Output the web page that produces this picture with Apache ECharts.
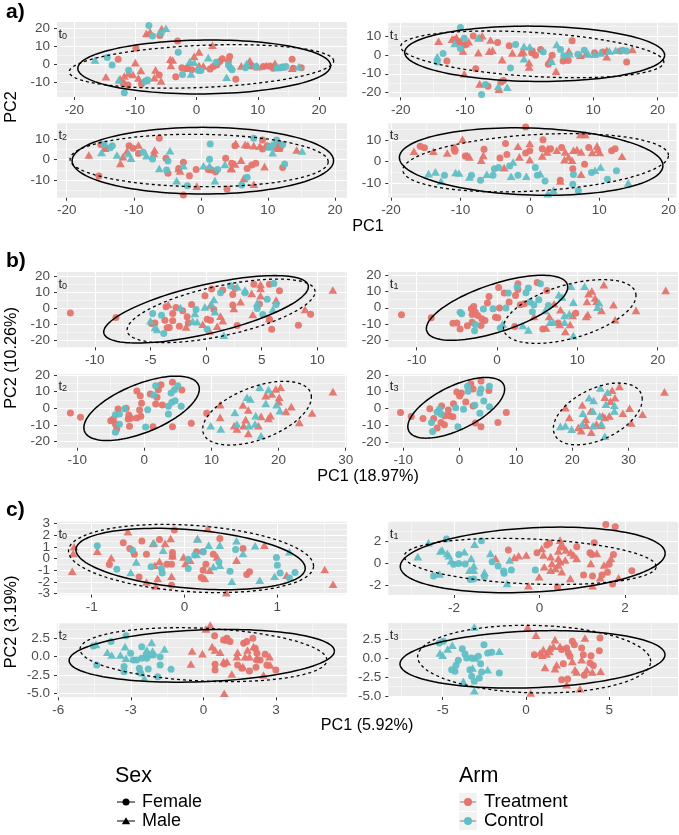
<!DOCTYPE html>
<html><head><meta charset="utf-8">
<style>html,body{margin:0;padding:0;background:#fff}#c{width:679px;height:835px}</style>
<script src="https://cdn.jsdelivr.net/npm/echarts@6/dist/echarts.min.js"></script></head>
<body><div id="c"></div>
<script>
// tf = Treatment/Female, tm = Treatment/Male, cf = Control/Female, cm = Control/Male
const a0_tf=[[-9.9,8.9],[-3.1,13],[-12.8,2.8],[-6,16],[-3.4,-7],[-6.1,-5.9],[-9,-11],[-12,-10.5],[-11.2,-11.5],[-2.4,-1.9],[-1.5,-1.9],[-0.8,-3.1],[2.7,-1.3],[3.3,-0.4],[4.2,3],[5.4,4.3],[5.2,1.9],[2.2,-2.6],[3.8,1.5],[6.4,-8.3],[9,-0.9],[10.9,-1.3],[12,-0.9],[12.5,-2.2],[14.1,-1.7],[15.6,2.8],[17.1,-1.9],[15.8,-2.2]];
const a0_tm=[[-8.2,17.2],[-7.6,18],[-5.7,19.8],[2.6,10.6],[0.4,6.9],[-0.4,4.4],[-4.3,2.8],[-3.9,2.4],[-4.2,-0.7],[-10,0.9],[-14.8,-6.9],[-12.5,-8.1],[-11.8,-6.5],[-11.1,-5],[-10.4,-5.7],[-9.1,-3.5],[-9.5,-7.6],[-6.7,-3.1],[-6.9,-7.4],[-5.8,-9.3],[-1.5,-2.2],[0.4,-0.7],[1.1,-0.9],[7.3,-0.9],[8.7,2],[8.4,-0.4],[10,-1.3],[11.4,-0.7],[12.8,0.6],[15.6,-2.2]];
const a0_cf=[[-7.8,21.5],[-7.2,15.7],[-5.8,17.2],[-3,6.7],[-14.6,3.7],[-13.8,-0.4],[-11.1,-3.3],[-11.8,-15.9],[-8,-8.7],[-8.4,-9.4],[-2.3,-5.7],[0.3,-3.5],[0.7,-3.5],[3.2,1.1],[5.2,-0.4],[5.5,-1.9],[5.8,-3.1],[8,-2],[9.7,-1.3],[13.2,-2],[13.9,-1.7],[14.6,-1.3]];
const a0_cm=[[-5,20],[-16.6,2.4],[-12.7,-8.7],[-8.3,-9],[-1.1,1.5],[-0.4,1.1],[-0.9,-5.4],[1.9,3.7],[0.3,-2.2],[4.9,-7.2],[8.2,0.6],[9.8,-0.9],[13.2,-1.8],[14.1,-1.3],[16.7,-1.3]];
const a1_tf=[[-8.7,10],[-11.6,8.2],[-10.9,7],[-10,5.2],[-12.8,-3.2],[-4.9,6.6],[-3.1,4.8],[-8.3,-7.3],[-6.4,-16.6],[-4,-13.6],[-4.4,-14.5],[0.5,2.1],[0.4,1.1],[1,-0.2],[1.8,2.9],[3.6,-0.2],[3,-5],[5.3,-3.2],[6.1,-2.9],[6.7,7.5],[10.2,1.2],[11.5,1.6],[14.2,2.1],[15.2,-3.8]];
const a1_tm=[[-14.1,7.3],[-12,8.4],[-11.3,9.3],[-10.7,7],[-9.9,6.1],[-9.4,7],[-10.3,2.1],[-7.3,10.2],[-7.7,9.1],[-6,7.9],[-7.9,1.2],[-6.2,2],[-5.7,2.5],[-4.2,-2.5],[-2.6,1.1],[-1.2,1.1],[-0.9,1.6],[0,-4.1],[0,-6.4],[-10.1,-10],[-7.7,-15.4],[-4.7,-18.2],[4.2,-8.6],[3.3,-2],[6.2,2.1],[8,-0.2],[8.9,0.7],[12.1,2.5],[12.1,-1],[16.1,2.9]];
const a1_cf=[[-10.7,14.6],[-10.1,8.8],[-10.7,3.4],[-13.4,0.7],[-14.3,-3.8],[-2.1,5.5],[-2.9,-7],[-6.8,-15.7],[-7.4,-21],[2.2,1.6],[4.9,2.9],[5.4,-0.5],[7.6,0.4],[8.6,2.5],[14.6,2.5],[15.2,2.1]];
const a1_cm=[[-14.3,-1],[-11.6,6.1],[-7.9,9.1],[-4.8,-16.8],[-3.4,-17.1],[-0.8,4.6],[0.1,4.3],[-0.8,-2],[4.3,5.5],[3.5,-3.4],[6.3,0.7],[9.2,0.7],[10.2,0.4],[11.1,1.1],[12.5,2.1],[13.5,2.5]];
const a2_tf=[[-6.2,10.5],[-14.9,7.5],[-14.2,5.6],[-10.7,6.9],[-10.1,5.6],[-9.3,3.1],[-5.2,0.7],[-15.2,-8],[-4.9,-6.7],[-2.6,-1.3],[-3.3,-4.3],[-1.7,-7.9],[-0.7,-4.8],[-2.6,-17.4],[3.9,-14.4],[3.7,0.7],[2.2,-5.9],[1.1,-4.8],[1.6,-5.1],[4.6,-1.8],[5.1,6.9],[6.9,-4.3],[7.6,-2.6],[8.2,-1.8],[9.2,9.7],[9.2,5.2],[9.9,6.9],[11.3,5.6],[11.8,5.6],[12.2,-3.9]];
const a2_tm=[[-16.7,2.3],[-14.3,5.6],[-12,-1.8],[-11.6,1.5],[-11,4.3],[-9.3,7.2],[-6.9,4.8],[-7,3.1],[-3.3,-4.3],[-3.1,-5.6],[-0.6,-13],[4.5,-4.3],[5.1,-2.1],[4.6,-4.3],[5.2,8],[6.6,7.5],[7,7.2],[7.9,6.9],[8.8,6.7],[6,-0.2],[6.4,-9.2],[7.9,-12.1],[9.5,-3.4],[11.7,8.5],[11.6,5.6],[14.3,4.8]];
const a2_cf=[[-14.4,7.5],[-13.2,6.9],[-13.5,5.9],[-8.6,3.6],[-7.2,0.3],[-4.9,-0.7],[-5.1,-5.1],[-2,-12.8],[1.4,7.7],[1.3,0.2],[2.5,-4.8],[6.1,-12.5],[6.9,-8.7],[7.9,10.5],[10.2,6.1],[10.8,7.2],[11.3,9.7],[12.2,7.5],[12.5,-2.1]];
const a2_cm=[[-14.8,3.6],[-12.5,2.3],[-10.8,3.1],[-10.4,0.7],[-8.1,2],[-4.6,4.4],[-6.2,-4.3],[-3.6,-10.3],[-2.6,-3],[0.4,-3],[1.3,-3],[2.1,-10.3],[3.6,-2.3],[10.3,6.4],[10.7,3.4],[15.1,4.3]];
const a3_tf=[[-15.8,7.1],[-15.2,6.4],[-10.8,4.8],[-10.9,6],[-9.3,2.6],[-6.6,5.7],[-4.3,1.7],[-3.5,8.4],[-3.3,3.3],[-0.6,16.1],[-0.6,4],[0,5],[1.9,10.2],[1.8,6],[3,6],[4.6,6.5],[6.2,-3.3],[7.9,-1.2],[8.5,6.5],[11.8,5],[12.3,6],[4.4,-8.7]];
const a3_tm=[[-16.7,4.8],[-13.9,4.8],[-11.9,4],[-10.8,6.8],[-9.7,10.4],[-9,2.9],[-8.7,2.2],[-7,0.6],[-6.7,2.9],[-3.7,-2.8],[-1.7,7.1],[-1.5,2.2],[0,8.4],[0,0.9],[1.8,2.6],[2.5,4.5],[2.6,6],[3.9,5.3],[5.1,4.5],[4.4,-9],[5,0.9],[6.1,0.6],[5.6,2.2],[6.3,5.3],[6.8,5.6],[7.4,4.5],[7.3,12.6],[8,12.6],[7.4,-5.9],[9,4.2],[9.7,7.3],[9.8,5.6],[10.1,4.2],[13.3,2.5]];
const a3_cf=[[-12.3,-6.4],[-8.4,-6.4],[-7.1,-8.7],[-5.3,-6.4],[-5.1,-3.3],[-4.5,-2.8],[-2.9,-2],[-1.7,-6.4],[0.8,-2.8],[1.1,-6.4],[2.2,-9],[6.3,-6],[6.2,-10.5],[7,-13.6],[11.2,-8.2],[12.5,-4.3],[8.9,-5.1]];
const a3_cm=[[-14.6,-5.6],[-13.6,-4.8],[-12.8,-9.1],[-10.7,-5.1],[-10.2,-5.3],[-8.7,-7.1],[-6.2,-5.9],[-2.4,-0.2],[-2.7,-6.8],[-0.5,-6.8],[1.5,-5.6],[2.6,-14.9],[3.4,-13.3],[9.4,-4],[10.2,-2.5],[14.2,-9.9]];
const b0_tf=[[-12.2,-3.1],[-8.1,-5.8],[-4.9,-9.6],[-4.6,-9.2],[-3.6,0.8],[-2.7,0.4],[-3,-3.3],[-2.1,-1.7],[-3.7,-7.5],[-3,-7.9],[-3.5,-12.3],[-3.3,-12.1],[-2.4,-11.3],[-1.7,-5.4],[-1.6,-9.2],[-1.3,2.3],[-0.1,7.7],[0.5,11.9],[0.1,-6.9],[0.4,-7.5],[1.5,11.3],[2.4,8.5],[2.4,1.9],[2.8,-10.8],[4.3,14.8],[4.8,2.5],[5.7,14.8],[6.6,10.8],[5.9,-13.1],[8.3,-10.6],[9.4,-3.8],[5.7,-7],[0.7,-0.8],[2.6,12.3]];
const b0_tm=[[-3.4,2.3],[-1.8,-11.7],[-0.3,-10],[0.3,-14.2],[1,-11.3],[0.4,1.9],[1.3,-5],[1.5,-7.9],[2.5,-0.2],[3.1,4],[4.1,9.2],[4.9,12.3],[4.2,-4],[4.9,7.7],[6.3,5],[4.9,14.8],[8.9,-0.8],[11.4,11.3],[5.7,-6.5]];
const b0_cf=[[-4.8,-3.3],[-4,-4.4],[-3.8,-15.8],[-0.9,-0.8],[0.1,-13.1],[1.3,9.6],[2.2,14],[3.5,9.6],[4.6,-0.2],[5.1,-4],[5.5,5.6],[6.1,15.4],[6.3,2.3]];
const b0_cm=[[-5,-7.9],[-4.6,-12.1],[-4.4,-13.3],[-2.3,0.4],[-1,-3.3],[-1.2,-8.1],[-0.8,-8.5],[-0.1,0.8],[0.5,2.3],[0.7,5.4],[0.8,-2.3],[1.6,-16.9],[2.8,13.3],[3.5,11.3],[4.6,3.3],[6,-0.8]];
const b1_tf=[[-11.9,-4.3],[-8.2,-6.2],[-5.5,-9.5],[-5,-9.3],[-4.6,-13],[-3.7,-11.1],[-3.1,-8.9],[-3.2,-0.6],[-2.9,0.8],[-3.1,-4.1],[-2.7,-2.7],[-2.4,-4.7],[-1.9,-6.8],[-1.5,-7.8],[-2,-10.9],[-1.2,2.9],[-1,7],[0.3,-0.2],[-0.2,-5.8],[0.1,-6.2],[0.2,12.4],[0.9,9.1],[1.5,3.5],[2.3,7.6],[2.6,11.3],[2.6,14.8],[2.2,-11.5],[2.9,1.9],[3.4,2.5],[5,15.5],[6.2,10.7],[5.7,-13],[7.6,-9.3],[9.8,-3.3]];
const b1_tm=[[4.6,-5.4],[6.5,-5.4],[6.1,-12.4],[7.1,2.5],[7.9,-1.2],[7.8,-10.3],[9.1,-10.3],[8.5,-14.6],[9.4,-4.7],[11.4,8.7],[11.8,10.3],[12.2,6],[11.2,3.9],[12.4,4.1],[11.3,-4.1],[11.1,-5.4],[13,-1.6],[14.5,1.9],[14.7,-7.4],[17.3,-1.6],[13.3,14.2],[21,10.7]];
const b1_cf=[[-4.6,-2.7],[-4.4,-3.7],[-2.7,-10.3],[-2.8,-14.2],[-1.7,-0.8],[-0.5,-0.6],[0.4,-12.4],[1.1,-0.2],[1.4,9.1],[2.5,12.8],[3.6,9.3],[3.9,12.2],[4.1,3.5],[4.6,1.9],[4.4,-2.5],[5.2,4.9],[5.4,14.8],[6.4,1.4]];
const b1_cm=[[0.7,-9.9],[3.2,-10.9],[3.9,-13.6],[6,-1.6],[6.6,-8.9],[7,-8.9],[7.7,8],[8.1,6.6],[8.4,-4.7],[9,-3.7],[8.4,-8.9],[9.2,13.2],[9.5,3.5],[10.9,13.2],[9.5,-17.1],[12.7,3.1],[12.5,0.4]];
const b2_tf=[[-11,-2.8],[-9.5,-5.4],[-5,-7.4],[-4.3,-9.4],[-4.1,-12.4],[-4.6,-6.4],[-3.9,-0.4],[-2.7,0],[-2.3,-4],[-2.4,-6.4],[-2,-6],[-2.2,-10.8],[-1.1,-5.8],[-0.5,-4.8],[-0.7,-1],[-0.4,3],[-0.6,7.6],[-1.1,10.4],[0.9,8.6],[1.7,2.6],[2.7,2],[1.9,6.6],[2.1,11.2],[2.5,14.2],[4.2,15.6],[5.6,11],[1.3,-11],[4.2,-11],[7,-9],[9.3,-3]];
const b2_tm=[[11.3,2.2],[11.3,-5.4],[13.4,-10.4],[13.8,-12.4],[14.7,2],[14.8,-10.4],[15.1,-6.8],[15.5,-15],[15.5,-1],[17,-10.4],[17.4,-4.8],[18.5,-6],[18.8,-4.4],[18.1,7.6],[19,8.6],[19.6,11.6],[20.3,12.6],[20.1,6.6],[20,4],[21.1,-1.8],[21.9,1],[25,-2.8],[23.1,-8.4],[28.1,10]];
const b2_cf=[[-4.3,-14.4],[-4.3,-3.8],[-3.7,-3.4],[-3.7,-9.6],[-2.9,-0.2],[0.5,-0.8],[0.2,-11.2],[1.4,8],[1.7,13.6],[4,9.2],[4.5,11.2],[5,13.6],[4.1,3.6],[4.6,4.6],[3.6,1.2],[3.6,-3.4],[5.5,1.2]];
const b2_cm=[[9.9,-10.4],[11.4,-12.4],[13.5,-2.4],[13.8,-9.4],[15.3,6.6],[15.8,5.6],[15.6,-10.4],[16.6,-4.4],[16.5,-9.4],[17.4,-16.4],[17.2,12.6],[18.1,3],[18.5,11.2],[19.7,2.2],[20.2,-1.4]];
const b3_tf=[[-10.5,-2.5],[-8.6,-4.9],[-6.5,-6.1],[-5.3,-0.2],[-4.6,-6.1],[-4,-11.8],[-3.2,1.4],[-3.3,-8.4],[-2.7,-9.8],[-2.7,-4.5],[-2,-1],[-1.8,-4.5],[-1.2,-5.1],[-1.1,2.7],[-0.5,9.8],[0,7.3],[0.3,9.2],[1.1,3.7],[2,14.7],[2.4,11.6],[2.4,1.4],[3.8,16.3],[5.2,10.6],[2.8,-8.8],[3.8,-11],[6.8,-8.4],[8.3,-2.5]];
const b3_tm=[[18.8,0.4],[19.5,-5.5],[21.1,-11.4],[21.6,-13.3],[21.8,2],[22.4,-6.5],[22.5,-10],[23.4,-14.3],[23.3,-1.6],[24.3,-9.4],[25.1,-10],[25.4,-4.5],[25.8,-5.5],[26.6,-4.5],[25.8,6.7],[26.8,4.3],[27.1,10.8],[27.6,6.3],[28.4,13.1],[29,-2.9],[30.2,0],[30.5,-8.8],[32.5,-3.5],[36.4,9.8]];
const b3_cf=[[-5,-8.4],[-4.8,-13.9],[-4,-2.2],[-3.6,-0.6],[-3.3,-3.5],[-0.7,0.4],[-0.3,-11],[0.7,-0.6],[1.4,13.1],[1.5,10.2],[2.7,1.8],[3.6,-2.9],[3.6,9.2],[3.8,11.6],[4.3,4.3],[5.3,1],[5.3,13.1]];
const b3_cm=[[17.9,-10.8],[18.8,-10.4],[19.9,-12.4],[21.9,-2.9],[21.8,-9.4],[23,6.3],[23.8,4.7],[23.7,-1.6],[23.7,-10.4],[24.9,-4.5],[25.2,-9.4],[25,12.2],[25.8,-16.7],[26,2.4],[26.3,9.6],[27.5,1.8],[27.5,-1.6]];
const c0_tf=[[-0.11,2.43],[-0.66,1.34],[-0.59,0.86],[-0.46,1.49],[-0.54,0.37],[-0.41,0.37],[-0.81,-0.51],[-0.49,-1.57],[-0.27,1.63],[-0.13,0.51],[-0.13,0.2],[-0.19,-0.49],[-0.14,-0.49],[-0.14,-2.29],[0.13,0.57],[0.2,0.57],[0.31,0.37],[0.23,-0.49],[0.2,-1],[0.18,-1.63],[0.38,1.71],[0.63,0.86],[0.67,-1.37],[0.7,-1.14]];
const c0_tm=[[-0.61,2.29],[-1.19,1],[-1.2,0.43],[-1.21,-1.09],[-0.94,0.63],[-0.79,0.06],[-0.41,-2],[-0.31,-2.34],[-0.29,-1.71],[-0.32,-0.57],[-0.27,-0.23],[-0.21,1.29],[-0.15,1.71],[-0.14,-1.51],[-0.13,0.23],[-0.01,0.14],[0.01,-0.43],[0.14,1.71],[0.06,-0.14],[0.25,2.57],[0.22,-1.71],[0.27,-1],[0.35,0.14],[0.45,-2.91],[0.56,-0.14],[0.86,1.14],[1.1,-1.43],[1.51,-0.94],[1.6,-2.2],[-0.34,1.29]];
const c0_cf=[[-0.94,1.09],[-0.73,-0.91],[-0.56,0.71],[-0.36,-0.71],[-0.25,-0.86],[-0.24,-1.23],[0.04,-0.06],[0.04,-0.86],[0.11,0.29],[0.2,0.57],[0.37,-0.29],[0.49,-1.09],[0.55,0.77],[0.99,0.09],[1,-0.57],[1.03,-1.23],[1.13,-1.66],[1.19,-1.2]];
const c0_cm=[[-0.58,-1.2],[-0.52,-0.29],[-0.33,1.34],[-0.23,0.71],[0.14,1.66],[0.13,0.34],[0.26,1.14],[0.31,-0.71],[0.38,1.14],[0.38,-0.57],[0.56,1.51],[0.63,0.43],[0.51,-1.94],[0.76,1.09],[0.81,-1.86],[0.97,-1.51],[1.13,0.57]];
const c1_tf=[[-0.73,1.23],[-0.06,0.98],[0.17,1.69],[0.23,1.85],[0.87,1.54],[1.03,-1.08],[1.18,0.98],[1.22,0.83],[1.24,-1.17],[1.28,1.91],[1.46,-1.08],[1.59,-0.83],[1.55,3.6],[1.77,3.38],[1.73,0.83],[1.63,-0.09],[2.16,-0.68],[1.71,-1.91],[0.42,-2.18]];
const c1_tm=[[-1.03,0.46],[-0.59,0.55],[-0.49,0.71],[-0.31,0.77],[-0.26,-2.06],[-0.01,-1.23],[0.05,1.38],[0.09,0.77],[0.11,-0.31],[0.26,0.62],[0.29,0],[0.26,-0.62],[0.44,1.14],[0.48,2.15],[0.5,1.69],[0.56,1.54],[0.44,0.46],[0.44,-0.15],[0.52,-0.77],[0.6,0.31],[0.62,1.23],[0.73,1.02],[0.72,-1.38],[0.8,0.77],[0.87,0.46],[1.2,0],[1.34,0.92],[1.24,-2.06],[1.42,-1.32],[1.51,-0.15],[1.67,0.46],[1.85,-1.32],[0.37,-0.46],[0.48,0.15]];
const c1_cf=[[-2.18,2.25],[-1.36,2.09],[-2.48,-1.17],[-1.89,0.83],[-2.01,-0.09],[-1.89,0],[-1.74,-0.06],[-1.62,-1.48],[-1.54,-1.45],[-1.29,-1.23],[-1.11,0.15],[-0.97,-0.25],[-0.84,-0.71],[-0.83,-0.92],[-0.66,-0.62],[-0.1,-0.62]];
const c1_cm=[[-2.85,0.62],[-2.6,1.91],[-2.32,1.14],[-2.28,1.23],[-2.16,0.92],[-2.12,0.71],[-2.34,-0.98],[-2.07,0.25],[-1.76,1.08],[-1.6,0.46],[-1.54,-0.22],[-1.64,-0.62],[-1.54,-0.62],[-1.52,1.78],[-1.29,-0.83],[-1.15,0.92],[-0.76,-1.85],[-0.7,0.31]];
const c2_tf=[[0.46,2.86],[0.48,-1.05],[0.48,-1.82],[0.86,-1],[0.83,2.27],[0.97,2.5],[1.1,2.05],[1.41,-1.14],[1.59,-1.59],[1.66,1.82],[1.79,2.05],[2.04,2.5],[1.9,-1.95],[2.14,1.14],[2.17,-1.45],[2.21,0.45],[2.21,-0.45],[2.55,0.32],[2.62,-1.14],[2.99,-1.82],[2.34,-0.45]];
const c2_tm=[[0.28,4.32],[0.1,3.77],[-0.47,0.77],[-0.04,0.41],[-0.52,-1],[0.36,1.36],[0.48,0.91],[0.69,0.59],[0.86,-5],[0.9,2.41],[1.03,2.27],[0.83,-0.68],[0.97,-0.68],[1.17,-2.36],[1.38,0],[1.41,0.59],[1.63,-1.36],[1.72,0],[1.82,0.91],[1.9,0],[2.21,-0.23],[2.48,-2.5],[2.73,0],[2.76,-1.14],[2.07,1.36]];
const c2_cf=[[-4.55,1.45],[-3.82,2.05],[-3.2,2.86],[-4.41,-1.14],[-3.01,0.45],[-3.28,-1.36],[-3.28,-2.05],[-2.9,-0.45],[-2.55,1.36],[-2.65,-1.59],[-2.59,-2.27],[-2.28,-1.68],[-2.21,0.23],[-2.07,0.23],[-1.79,0],[-1.79,-1.14],[-1.89,-2.73],[-1.34,-1.73],[-2.76,-0.45],[-2.55,-0.23],[-2.34,-0.23]];
const c2_cm=[[-4.44,1.68],[-3.97,0.59],[-3.79,0.23],[-3.43,0.23],[-3.24,1.36],[-3.2,-0.23],[-2.44,-2.95],[-2.14,1.95],[-2.34,0.91],[-2.1,0.77],[-1.61,1.05],[-2.41,0.32],[-2.62,-1.82]];
const c3_tf=[[0.5,0.44],[2.24,-0.75],[2.14,-2.85],[2.5,-2.76],[2.78,2.19],[2.9,1.75],[2.54,0.66],[4.44,2.63],[4.4,0.96],[3.9,0.31],[3.44,0.44],[3.34,1.32],[3.5,-2.28],[4.04,-1],[3.84,-0.66],[2.64,0.22],[2.14,1.1],[2.44,1.32]];
const c3_tm=[[0.1,4.04],[0.6,2.98],[0.28,-4.6],[0.84,0.66],[1.04,1.1],[0.98,0.35],[1.4,0.88],[1.14,-1.23],[1.74,2.41],[1.64,1.54],[1.84,-0.88],[1.74,-1.4],[2.44,-3.5],[2.78,-0.44],[2.94,-1.54],[3.04,-1.84],[3.24,-4.04],[3.54,2.63],[3.64,-1.54],[3.98,-1.84],[4.48,-1.75],[2.04,1.54],[3.34,-0.22],[1.44,1.32],[1.24,0.53]];
const c3_cf=[[-5.2,1.97],[-4.96,2.19],[-3.82,1.23],[-3.66,0.53],[-2.52,1.75],[-4.06,-0.31],[-4.46,-1.54],[-4.2,-0.96],[-4.26,-1.75],[-3.36,-1.54],[-3.56,0],[-3.26,0],[-2.86,0.22],[-2.72,-0.75],[-2.66,-1.84],[-2.8,-2.63],[-3.1,-3.07],[-2.3,0.66],[-2.06,0.75],[-1.6,-1.97],[-3.26,-2.41]];
const c3_cm=[[-3.1,4.08],[-4.42,1.67],[-4.7,1.18],[-5.16,0.66],[-5,0.35],[-1.6,0.88],[-2.3,-1.54],[-3.2,-1.32],[-3.76,-3.07],[-3.1,-4.3],[-3.06,0]];

// ellipses: centre x, centre y, half width, half height, correlation
const ell_a0=[[1.25,-1.5,20.65,15,0.05],[0.8,-1.2,21.6,12.1,0.25]];
const ell_a1=[[0.87,0.6,20.25,14.7,-0.05],[0.5,0.3,20.5,12.4,-0.33]];
const ell_a2=[[0.3,-0.5,19.5,16.4,0],[-0.25,-0.4,19.25,12.9,-0.05]];
const ell_a3=[[0.2,0,19,15.7,-0.12],[0.85,-0.55,19.15,13.55,0.25]];
const ell_b0=[[0,-0.75,9.2,21,0.67],[1.35,-1.7,8.45,19.8,0.6]];
const ell_b1=[[0,0,8.8,20,0.64],[9.05,-2.3,8.25,19.6,0.5]];
const ell_b2=[[-0.4,0,8.6,19.3,0.6],[16.8,-2.9,8.1,19.1,0.5]];
const ell_b3=[[-0.6,0.3,8.6,18.1,0.62],[24.55,-3.35,7.9,18.45,0.47]];
const ell_c0=[[0.065,-0.045,1.235,2.62,-0.3],[0.07,0,1.32,2.91,-0.22]];
const ell_c1=[[-0.16,0.32,3.1,3.03,0.2],[-0.22,0.18,2.95,2.13,-0.22]];
const ell_c2=[[-0.07,0.115,5.48,3.6,0.18],[0,0.27,5.1,3.68,-0.2]];
const ell_c3=[[0.39,-0.18,7.95,3.78,0.16],[0.49,-0.15,6.99,4.45,-0.07]];

// tick labels
const ticks20by10=[-20,-10,0,10,20];
const ticksY_a0=[-10,0,10,20], ticksY_a1=[-20,-10,0,10], ticksY_a2=[-10,0,10];
const ticksX_b0=[-10,-5,0,5,10], ticksX_b1=[-10,0,10,20], ticksX_b2=[-10,0,10,20,30];
const ticksY_b=[-20,-10,0,10,20];
const ticksX_c0=[-1,0,1], ticksX_c1=[-2,0,2], ticksX_c2=[-6,-3,0,3], ticksX_c3=[-5,0,5];
const ticksY_c0=[-3,-2,-1,0,1,2,3], ticksY_c1=[-2,0,2], ticksY_c2=[-5,-2.5,0,2.5];
// the tightly packed c) t0 labels are laid out on two overlaid axes so none is dropped
const labelsY_c0_odd=[-3,-1,1,3], labelsY_c0_even=[-2,0,2];

const COL_T='#E4746B', COL_C='#60BFC4';
const panels=[
 {g:[57,22,290,75],   x:[-22.8,24.57], y:[-18.2,23.5], xt:ticks20by10,yt:ticksY_a0,tag:'0',d:[a0_tf,a0_tm,a0_cf,a0_cm],e:ell_a0},
 {g:[388.3,22.7,289.7,74.6],x:[-21.93,23.2],y:[-22.5,17.1],xt:ticks20by10,yt:ticksY_a1,tag:'1',d:[a1_tf,a1_tm,a1_cf,a1_cm],e:ell_a1},
 {g:[57,123.3,290,74.4],x:[-21.45,21.8],y:[-18.7,17.9],xt:ticks20by10,yt:ticksY_a2,tag:'2',d:[a2_tf,a2_tm,a2_cf,a2_cm],e:ell_a2},
 {g:[388.3,123.3,289.7,74.4],x:[-20.4,21.15],y:[-16.8,17.8],xt:ticks20by10,yt:ticksY_a2,tag:'3',d:[a3_tf,a3_tm,a3_cf,a3_cm],e:ell_a3},
 {g:[57,272,290,75.3],x:[-13.4,12.67],y:[-24.4,22.5],xt:ticksX_b0,yt:ticksY_b,tag:'0',d:[b0_tf,b0_tm,b0_cf,b0_cm],e:ell_b0},
 {g:[388.3,272,289.7,75.3],x:[-13.54,22.53],y:[-24.3,22],xt:ticksX_b1,yt:ticksY_b,tag:'1',d:[b1_tf,b1_tm,b1_cf,b1_cm],e:ell_b1},
 {g:[57,374.3,290,73.4],x:[-13,30.2],y:[-23.6,20.4],xt:ticksX_b2,yt:ticksY_b,tag:'2',d:[b2_tf,b2_tm,b2_cf,b2_cm],e:ell_b2},
 {g:[388.3,374.3,289.7,73.4],x:[-12.67,38.8],y:[-23.5,20.3],xt:ticksX_b2,yt:ticksY_b,tag:'3',d:[b3_tf,b3_tm,b3_cf,b3_cm],e:ell_b3},
 {g:[57,521.7,290,72.9],x:[-1.374,1.75],y:[-3.08,3.14],xt:ticksX_c0,yt:ticksY_c0,yl:[labelsY_c0_odd,labelsY_c0_even],tag:'0',d:[c0_tf,c0_tm,c0_cf,c0_cm],e:ell_c0},
 {g:[388.3,521.7,289.7,73.3],x:[-3.54,3.24],y:[-2.92,3.85],xt:ticksX_c1,yt:ticksY_c1,tag:'1',d:[c1_tf,c1_tm,c1_cf,c1_cm],e:ell_c1},
 {g:[57,623.3,290,74],x:[-6.05,5.93],y:[-5.55,4.55],xt:ticksX_c2,yt:ticksY_c2,dec:1,tag:'2',d:[c2_tf,c2_tm,c2_cf,c2_cm],e:ell_c2},
 {g:[388.3,623,289.7,74],x:[-8.26,9.12],y:[-5.13,4.6],xt:ticksX_c3,yt:ticksY_c2,dec:1,tag:'3',d:[c3_tf,c3_tm,c3_cf,c3_cm],e:ell_c3}
];
const FONT='"Liberation Sans",Arial,sans-serif';
function minors(t,r){const s=t[1]-t[0],o=[];for(let v=t[0]-s*3.5;v<=r[1];v+=s){if(v>=r[0])o.push(+v.toFixed(4));}return o;}
const grids=[],xAxes=[],yAxes=[],series=[];
const tri=[8.8,7.6], dot=7;
function axis(kind,gi,r,vals,major,fmt,labVals){
 const lab={show:true,customValues:labVals||vals,color:'#4D4D4D',fontFamily:FONT,fontSize:13.5,margin:kind==='x'?6:7,formatter:fmt,hideOverlap:false,showMinLabel:true,showMaxLabel:true};
 return {type:'value',gridIndex:gi,min:r[0],max:r[1],position:kind==='x'?'bottom':'left',z:major?3:2,
  axisLine:{show:false,onZero:false},
  axisTick:{show:major,customValues:vals,length:3,lineStyle:{color:'#333333',width:1}},
  axisLabel:(major||labVals)?lab:{show:false},
  splitLine:{show:true,lineStyle:{color:'#FFFFFF',width:major?1.1:0.5}},minorSplitLine:{show:false}};
}
panels.forEach((p,i)=>{
 grids.push({left:p.g[0],top:p.g[1],width:p.g[2],height:p.g[3],show:true,backgroundColor:'#EBEBEB',borderWidth:0,containLabel:false});
 const fy=p.dec?(v=>(+v).toFixed(p.dec)):(v=>String(v));
 const fx=v=>String(v);
 const base=xAxes.length;
 xAxes.push(axis('x',i,p.x,minors(p.xt,p.x),false,fx),axis('x',i,p.x,p.xt,true,fx));
 yAxes.push(axis('y',i,p.y,minors(p.yt,p.y),false,fy,p.yl?p.yl[1]:null),axis('y',i,p.y,p.yt,true,fy,p.yl?p.yl[0]:null));
 const mk=(data,sym,size,col,name)=>({type:'scatter',name,xAxisIndex:base+1,yAxisIndex:base+1,data,symbol:sym,symbolSize:size,
   itemStyle:{color:col,opacity:0.95},z:3,silent:true,clip:true});
 series.push(mk(p.d[0],'circle',dot,COL_T,'Treatment Female'),mk(p.d[1],'triangle',tri,COL_T,'Treatment Male'),
             mk(p.d[2],'circle',dot,COL_C,'Control Female'),mk(p.d[3],'triangle',tri,COL_C,'Control Male'));
 p.e.forEach((el,k)=>series.push({type:'custom',xAxisIndex:base+1,yAxisIndex:base+1,data:[el],z:4,silent:true,clip:false,
   dimensions:['cx','cy','rx','ry','rho'],encode:{x:0,y:1},
   renderItem:(params,api)=>{
     const cx=api.value(0),cy=api.value(1),rx=api.value(2),ry=api.value(3),r=api.value(4),pts=[],q=Math.sqrt(1-r*r);
     for(let j=0;j<=120;j++){const t=j/120*2*Math.PI;
       pts.push(api.coord([cx+rx*Math.cos(t),cy+ry*(r*Math.cos(t)+q*Math.sin(t))]));}
     return {type:'polyline',shape:{points:pts},style:{fill:null,stroke:'#000000',lineWidth:k?1.3:1.5,lineDash:k?[3,3]:null}};
   }}));
});
const txt=(x,y,text,size,o={})=>Object.assign({type:'text',x,y,z:20,style:Object.assign({text,fontSize:size,fontFamily:FONT,fill:o.fill||'#000',fontWeight:o.bold?'bold':'normal',textAlign:o.align||'left',textVerticalAlign:'middle',verticalAlign:'middle'},o.style||{})},o.rot?{rotation:o.rot}:{});
const graphic=[];
[['a)',6,12],['b)',6,261],['c)',6,510]].forEach(a=>graphic.push(txt(a[1],a[2],a[0],21,{bold:true})));
[['PC1',368,227],['PC1 (18.97%)',368,477],['PC1 (5.92%)',367,726]].forEach(a=>graphic.push(txt(a[1],a[2],a[0],16.2,{align:'center'})));
[['PC2',12,107],['PC2 (10.26%)',12,358],['PC2 (3.19%)',12,622]].forEach(a=>graphic.push(txt(a[1],a[2],a[0],16.2,{align:'center',rot:Math.PI/2})));
panels.forEach(p=>{
 graphic.push({type:'text',x:p.g[0]+1.5,y:p.g[1]+4,z:20,style:{text:'{t|t}{s|'+p.tag+'}',fontFamily:FONT,rich:{t:{fontSize:13,fontFamily:FONT,fill:'#222',verticalAlign:'bottom',lineHeight:15},s:{fontSize:9,fontFamily:FONT,fill:'#222',verticalAlign:'bottom',padding:[4,0,0,0],lineHeight:11}}}});
});
// legends
graphic.push(txt(115,776,'Sex',21.5),txt(459,776,'Arm',21.5));
[['Female',802,'circle'],['Male',821,'triangle']].forEach(r=>{
 graphic.push({type:'line',z:20,shape:{x1:117,y1:r[1],x2:135,y2:r[1]},style:{stroke:'#000',lineWidth:1}});
 if(r[2]==='circle')graphic.push({type:'circle',z:21,shape:{cx:126,cy:r[1],r:3.5},style:{fill:'#000'}});
 else graphic.push({type:'polygon',z:21,shape:{points:[[126,r[1]-3.8],[130.2,r[1]+3.2],[121.8,r[1]+3.2]]},style:{fill:'#000'}});
 graphic.push(txt(142,r[1],r[0],18));
});
[['Treatment',802,COL_T],['Control',821,COL_C]].forEach(r=>{
 graphic.push({type:'rect',z:19,shape:{x:459,y:r[1]-9,width:18,height:18},style:{fill:'#F2F2F2'}});
 graphic.push({type:'line',z:20,shape:{x1:460,y1:r[1],x2:476,y2:r[1]},style:{stroke:'#333',lineWidth:0.6}});
 graphic.push({type:'circle',z:21,shape:{cx:468,cy:r[1],r:4},style:{fill:r[2]}});
 graphic.push(txt(484,r[1],r[0],18.5));
});
const chart=echarts.init(document.getElementById('c'),null,{renderer:'canvas',width:679,height:835});
chart.setOption({animation:false,backgroundColor:'#fff',tooltip:{show:false},legend:{show:false},grid:grids,xAxis:xAxes,yAxis:yAxes,series,graphic:{elements:graphic}});
</script></body></html>
